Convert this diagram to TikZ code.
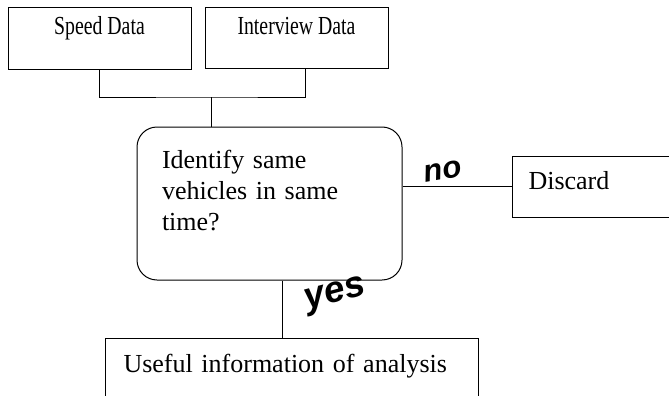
\documentclass[tikz,border=0pt]{standalone}
\usepackage{fontspec}
\setmainfont{Liberation Serif}
\newfontfamily\narrowserif[FakeStretch=0.76]{Liberation Serif}
\newfontfamily\labelsans{Liberation Sans}
\usetikzlibrary{shapes,arrows,positioning,calc}

\begin{document}
\begin{tikzpicture}[x=1pt,y=-1pt,line width=1pt,
    bigfont/.style={font=\fontsize{26}{31}\selectfont},
    databox/.style={draw, rectangle, inner sep=0pt, minimum width=183pt,
        text height=27pt, text depth=35pt, anchor=base,
        font=\narrowserif\fontsize{26}{31}\selectfont},
    endbox/.style={draw, rectangle, inner ysep=0pt, align=left,
        anchor=base west, bigfont},
    answer/.style={inner sep=0pt,
        font=\labelsans\bfseries\itshape\fontsize{#1}{#1}\selectfont}]
    \useasboundingbox (0,0) rectangle (669,396);
    \clip (0,0) rectangle (669,396);
    \node[databox] (speed) at (99.5,35) {Speed Data};
    \node[databox, text depth=34pt] (interview) at (296.5,35) {Interview Data};
    \node[draw, rounded corners=20pt, minimum width=265pt, minimum height=153pt,
        text width=215pt, align=left, inner sep=0pt, bigfont] (check) at (269.5,203.5)
        {Identify same\\vehicles in same\\time?\rule[-27pt]{0pt}{27pt}};
    \node[endbox, inner xsep=16pt, text width=170pt, text height=33pt, text depth=28pt]
        (discard) at (512,189) {Discard};
    \node[endbox, inner xsep=18pt, text width=337pt, text height=34pt, text depth=50pt]
        (useful) at (105,372) {Useful information of analysis};
    \coordinate (merge) at (211,97);
    \draw (speed.south) |- (merge) -| ([xshift=8.5pt]interview.south);
    \draw (merge) -- (merge |- check.north);
    \draw (check.east |- discard.west) -- (discard.west);
    \draw (check.south -| 282,0) -- (useful.north -| 282,0);
    \node[answer=31, rotate=10] (no) at (443,171) {no};
    \node[answer=37, rotate=15] (yes) at (336,296) {yes};
\end{tikzpicture}
\end{document}
